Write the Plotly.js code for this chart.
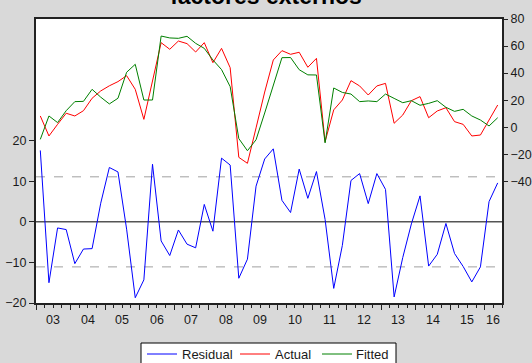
<!DOCTYPE html>
<html>
<head>
<meta charset="utf-8">
<script src="https://cdn.plot.ly/plotly-3.0.1.min.js"></script>
<style>html,body{margin:0;padding:0;background:#d9d9d9;}#chart{width:532px;height:363px;}</style>
</head>
<body>
<div id="chart"></div>
<script>
// Quarterly observations 2003Q1 - 2016Q2
const startYear = 2003;
const yearLabels = ['03','04','05','06','07','08','09','10','11','12','13','14','15','16'];

const residual = [17.6, -15.0, -1.5, -1.9, -10.3, -6.7, -6.6, 4.6, 13.4, 12.3,
                  -1.8, -18.7, -14.3, 14.2, -4.7, -8.3, -2.0, -5.5, -6.4, 4.3,
                  -2.3, 15.7, 14.0, -13.9, -9.2, 8.8, 15.5, 18.0, 5.3, 2.3,
                  13.0, 5.8, 12.4, 0.6, -16.4, -5.8, 10.2, 11.9, 4.5, 11.9,
                  8.0, -18.5, -8.8, -0.5, 6.4, -10.9, -8.0, -0.4, -7.8, -11.0,
                  -14.8, -11.1, 5.0, 9.6];
const actual = [8.3, -6.5, 2.1, 10.3, 8.3, 12.2, 21.4, 26.8, 30.6, 33.7,
                38.1, 28.0, 5.8, 33.9, 62.5, 57.6, 63.7, 61.8, 55.6, 62.5,
                47.7, 58.3, 44.0, -22.3, -26.7, -0.5, 26.0, 49.7, 56.6, 53.9,
                55.4, 44.3, 50.9, -10.7, 12.8, 20.1, 34.4, 30.5, 23.8, 30.5,
                32.4, 2.9, 9.0, 19.6, 22.6, 7.0, 12.0, 14.4, 4.1, 2.1,
                -6.5, -5.8, 5.3, 16.4];
const fitted = [-9.0, 8.3, 3.4, 12.2, 18.9, 19.1, 28.0, 22.2, 17.2, 21.4,
                40.6, 46.5, 20.1, 20.1, 67.4, 66.0, 65.7, 67.2, 62.0, 58.3,
                49.7, 42.6, 30.0, -8.4, -17.4, -9.3, 10.5, 31.5, 51.4, 51.5,
                42.5, 38.7, 38.6, -11.6, 29.0, 25.7, 24.5, 18.9, 19.4, 18.9,
                24.5, 21.3, 18.1, 19.6, 16.2, 17.6, 19.6, 14.7, 11.7, 13.2,
                8.3, 5.3, 0.9, 7.0];
const residualSE = 11.1;

const leftTicks = [-20, -10, 0, 10, 20];
const rightTicks = [-40, -20, 0, 20, 40, 60, 80];

const n = residual.length;
const x = residual.map((_, i) => startYear + i / 4 + 0.125);
const endX = startYear + n / 4;
const yearBounds = [];
for (let y = startYear; y < endX; y++) yearBounds.push(y);
const quarterBounds = [];
for (let q = startYear; q <= endX + 1e-9; q += 0.25) quarterBounds.push(q);
const labelPos = yearBounds.map(y => (y + Math.min(y + 1, endX)) / 2);

const W = 532, H = 363;
const M = {l: 36, r: 30, t: 19, b: 60};
const plotW = W - M.l - M.r, plotH = H - M.t - M.b;
const px2x = p => (p - M.l) / plotW;   // page px -> paper x
const px2y = p => (H - M.b - p) / plotH; // page px -> paper y

const font = {family: 'Liberation Sans, Arial, sans-serif', size: 12.5, color: '#1a1a1a'};
const legendFont = {family: 'Liberation Sans, Arial, sans-serif', size: 13, color: '#1a1a1a'};
const axisColor = '#222';

const traces = [
  {x: x, y: residual, name: 'Residual', type: 'scatter', mode: 'lines',
   line: {color: '#0000ff', width: 1}, xaxis: 'x', yaxis: 'y'},
  {x: x, y: actual, name: 'Actual', type: 'scatter', mode: 'lines',
   line: {color: '#ff0000', width: 1}, xaxis: 'x', yaxis: 'y2'},
  {x: x, y: fitted, name: 'Fitted', type: 'scatter', mode: 'lines',
   line: {color: '#008000', width: 1}, xaxis: 'x', yaxis: 'y2'}
];

const yearAnnotations = yearLabels.map((t, i) => ({
  text: t, x: labelPos[i], xref: 'x', y: 0, yref: 'paper', yanchor: 'top', yshift: -8,
  showarrow: false, font: font
}));

// Legend box (bottom edge runs off the page, as in the reference)
const legendBox = {left: 141, right: 396, top: 343, bottom: 372, midY: 354};
const legendItems = [{lineX: 147, textX: 182}, {lineX: 240, textX: 275}, {lineX: 322, textX: 356}];
const legendShapes = [
  {type: 'rect', xref: 'paper', yref: 'paper', x0: px2x(legendBox.left), x1: px2x(legendBox.right),
   y0: px2y(legendBox.top), y1: px2y(legendBox.bottom), fillcolor: '#ffffff', line: {color: '#000', width: 1}, layer: 'above'}
];
const legendAnnotations = [];
traces.forEach((tr, i) => {
  const it = legendItems[i];
  legendShapes.push({type: 'line', xref: 'paper', yref: 'paper', x0: px2x(it.lineX), x1: px2x(it.lineX + 30),
    y0: px2y(legendBox.midY), y1: px2y(legendBox.midY), line: {color: tr.line.color, width: 1}, layer: 'above'});
  legendAnnotations.push({text: tr.name, xref: 'paper', yref: 'paper', x: px2x(it.textX), y: px2y(legendBox.midY),
    xanchor: 'left', yanchor: 'middle', xshift: -2, showarrow: false, font: legendFont});
});

const layout = {
  width: W, height: H,
  paper_bgcolor: '#d9d9d9', plot_bgcolor: '#ffffff',
  margin: {l: M.l, r: M.r, t: M.t, b: M.b, pad: 0, autoexpand: false},
  font: font,
  showlegend: false,
  title: {text: '<b>factores externos</b>', font: {family: 'Liberation Sans, Arial, sans-serif', size: 23, color: '#000'},
          x: 0.5, xref: 'container', y: 1, yref: 'paper', yanchor: 'bottom', pad: {b: 15}},
  xaxis: {range: [startYear, endX], tickmode: 'array', tickvals: yearBounds, showticklabels: false,
          ticks: 'outside', ticklen: 5, tickwidth: 1, tickcolor: axisColor,
          minor: {tickmode: 'array', tickvals: quarterBounds, ticks: 'outside', ticklen: 3, tickwidth: 1, tickcolor: axisColor, showgrid: false},
          showline: true, linecolor: axisColor, linewidth: 2, mirror: true,
          showgrid: false, zeroline: false},
  yaxis: {range: [-20, 50], tickmode: 'array', tickvals: leftTicks, ticks: 'outside', ticklen: 5,
          tickcolor: axisColor, showline: true, linecolor: axisColor, linewidth: 2,
          showgrid: false, zeroline: false, tickfont: font},
  yaxis2: {range: [-130, 80], overlaying: 'y', side: 'right', anchor: 'x', tickmode: 'array', tickvals: rightTicks,
           ticks: 'outside', ticklen: 4, tickcolor: axisColor, showline: true, linecolor: axisColor, linewidth: 2,
           showgrid: false, zeroline: false, tickfont: font},
  annotations: yearAnnotations.concat(legendAnnotations),
  shapes: [
    {type: 'line', xref: 'paper', yref: 'y', x0: 0, x1: 1, y0: 0, y1: 0, layer: 'below',
     line: {color: '#555555', width: 1.5}},
    {type: 'line', xref: 'paper', yref: 'y', x0: 0, x1: 1, y0: residualSE, y1: residualSE, layer: 'below',
     line: {color: '#a0a0a0', width: 1, dash: 'dash'}},
    {type: 'line', xref: 'paper', yref: 'y', x0: 0, x1: 1, y0: -residualSE, y1: -residualSE, layer: 'below',
     line: {color: '#a0a0a0', width: 1, dash: 'dash'}}
  ].concat(legendShapes)
};

Plotly.newPlot('chart', traces, layout, {staticPlot: true, displayModeBar: false});
</script>
</body>
</html>
